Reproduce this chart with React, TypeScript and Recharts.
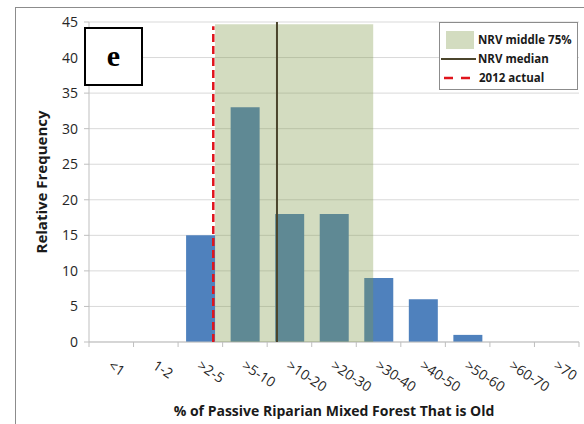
import React from "react";
import {
  ComposedChart,
  Bar,
  XAxis,
  YAxis,
  CartesianGrid,
  ReferenceArea,
  ReferenceLine,
} from "recharts";

const categories = [
  "<1",
  "1-2",
  ">2-5",
  ">5-10",
  ">10-20",
  ">20-30",
  ">30-40",
  ">40-50",
  ">50-60",
  ">60-70",
  ">70",
];
const frequency = [0, 0, 15, 33, 18, 18, 9, 6, 1, 0, 0];
const yTicks = [0, 5, 10, 15, 20, 25, 30, 35, 40, 45];

// NRV range and markers, in category-index units (0 = left edge of "<1")
const nrvRange = [2.83, 6.38];
const nrvTop = 44.7;
const nrvMedian = 4.22;
const actual2012 = 2.79;
const actualTop = 44.4;

const legendItems = ["NRV middle 75%", "NRV median", "2012 actual"];

const data = categories.map((c, i) => ({ cat: c, freq: frequency[i] }));
// band edges 0..n, so the overlay's numeric axis spans the same width as the bands
const edges = [...categories.map((_, i) => ({ edge: i })), { edge: categories.length }];

const FONT = "'Open Sans', 'Liberation Sans', sans-serif";
const AXIS_GREY = "#bfbfbf";
const W = 584;
const H = 424;
const M = { top: 22, right: 5, bottom: 82, left: 89 };

function CategoryTick(props: any) {
  const { x, y, payload, index } = props;
  const half = payload && payload.offset ? payload.offset : 22.25;
  const ax = x - 4;
  const ay = y + 21;
  return (
    <g>
      <line x1={x - half} x2={x - half} y1={y - 5} y2={y} stroke={AXIS_GREY} />
      {index === categories.length - 1 && (
        <line x1={x + half} x2={x + half} y1={y - 5} y2={y} stroke={AXIS_GREY} />
      )}
      <text
        x={ax}
        y={ay}
        transform={`rotate(33, ${ax}, ${ay})`}
        textAnchor="start"
        fontSize={14}
        fontFamily={FONT}
        fill="#262626"
      >
        {payload.value}
      </text>
    </g>
  );
}

function LegendBox() {
  const row: React.CSSProperties = {
    display: "flex",
    alignItems: "center",
    height: 19,
  };
  const label: React.CSSProperties = {
    fontFamily: FONT,
    fontWeight: 700,
    fontSize: 11.5,
    color: "#1a1a1a",
    marginLeft: 4,
    whiteSpace: "nowrap",
  };
  return (
    <div
      style={{
        position: "absolute",
        left: 439,
        top: 22,
        width: 137,
        height: 66,
        border: "1px solid #8c8c8c",
        background: "#fff",
        boxSizing: "content-box",
      }}
    >
      <div style={{ ...row, marginTop: 7, paddingLeft: 6 }}>
        <div
          style={{ width: 28, height: 18, background: "rgb(211,220,192)" }}
        />
        <span style={label}>{legendItems[0]}</span>
      </div>
      <div style={{ ...row, paddingLeft: 1 }}>
        <div style={{ width: 35, height: 2, background: "#4b452c" }} />
        <span style={{ ...label, marginLeft: 2 }}>{legendItems[1]}</span>
      </div>
      <div style={{ ...row, paddingLeft: 4 }}>
        <svg width={32} height={4}>
          <line
            x1={0}
            x2={32}
            y1={2}
            y2={2}
            stroke="#e0141c"
            strokeWidth={2.5}
            strokeDasharray="9 8"
          />
        </svg>
        <span style={{ ...label, marginLeft: 3 }}>{legendItems[2]}</span>
      </div>
    </div>
  );
}

// NRV shading and markers, drawn in a second transparent chart on top of
// the bars so the bars show through the green tint
function NrvOverlay() {
  return (
    <ComposedChart
      width={W}
      height={H}
      data={edges}
      margin={M}
      style={{ position: "absolute", left: 0, top: 0 }}
    >
      <XAxis
        xAxisId="num"
        dataKey="edge"
        type="number"
        domain={[0, categories.length]}
        allowDataOverflow
        hide
      />
      <YAxis domain={[0, 45]} allowDataOverflow hide />
      <ReferenceArea
        xAxisId="num"
        x1={nrvRange[0]}
        x2={nrvRange[1]}
        y1={0}
        y2={nrvTop}
        fill="rgb(126,152,70)"
        fillOpacity={0.34}
        stroke="none"
      />
      <ReferenceLine
        xAxisId="num"
        segment={[
          { x: nrvMedian, y: 0 },
          { x: nrvMedian, y: 45 },
        ]}
        stroke="#4b452c"
        strokeWidth={2}
      />
      <ReferenceLine
        xAxisId="num"
        segment={[
          { x: actual2012, y: 0 },
          { x: actual2012, y: actualTop },
        ]}
        stroke="#e0141c"
        strokeWidth={2.5}
        strokeDasharray="8 4"
      />
    </ComposedChart>
  );
}

export default function App() {
  return (
    <div
      style={{
        position: "absolute",
        left: 0,
        top: 0,
        width: W,
        height: H,
        overflow: "hidden",
        background: "#fff",
      }}
    >
      <div
        style={{
          position: "absolute",
          left: 15,
          top: 7,
          width: 620,
          height: 460,
          borderLeft: "1px solid #8c8c8c",
          borderTop: "1px solid #8c8c8c",
        }}
      />
      <div style={{ position: "absolute", left: 0, top: 0 }}>
        <ComposedChart
          width={W}
          height={H}
          data={data}
          margin={{ top: M.top, right: M.right, bottom: 0, left: 0 }}
        >
          <CartesianGrid vertical={false} stroke="#d9d9d9" />
          <XAxis
            dataKey="cat"
            height={M.bottom}
            interval={0}
            tickLine={false}
            tickSize={5}
            tickMargin={0}
            axisLine={{ stroke: AXIS_GREY }}
            tick={<CategoryTick />}
            label={{
              value: "% of Passive Riparian Mixed Forest That is Old",
              position: "insideBottom",
              offset: 8,
              style: {
                fontFamily: FONT,
                fontWeight: 700,
                fontSize: 14,
                fill: "#1a1a1a",
              },
            }}
          />
          <YAxis
            width={M.left}
            domain={[0, 45]}
            ticks={yTicks}
            interval={0}
            tickSize={5}
            tickMargin={6}
            tickLine={{ stroke: AXIS_GREY }}
            axisLine={{ stroke: AXIS_GREY }}
            tick={{ fontSize: 14, fontFamily: FONT, fill: "#262626" }}
            label={{
              value: "Relative Frequency",
              angle: -90,
              position: "insideLeft",
              offset: 42,
              style: {
                textAnchor: "middle",
                fontFamily: FONT,
                fontWeight: 700,
                fontSize: 15,
                fill: "#1a1a1a",
              },
            }}
          />
          <Bar
            dataKey="freq"
            fill="#4f81bd"
            barSize={29}
            isAnimationActive={false}
          />
        </ComposedChart>
      </div>
      <div style={{ position: "absolute", left: 0, top: 0 }}>
        <NrvOverlay />
      </div>
      <LegendBox />
      <div
        style={{
          position: "absolute",
          left: 84,
          top: 27,
          width: 55,
          height: 53,
          border: "2px solid #000",
          background: "#fff",
          display: "flex",
          alignItems: "center",
          justifyContent: "center",
          fontFamily: "'Liberation Serif', 'DejaVu Serif', serif",
          fontWeight: 700,
          fontSize: 30,
          lineHeight: 1,
          paddingBottom: 2,
          boxSizing: "content-box",
        }}
      >
        e
      </div>
    </div>
  );
}
